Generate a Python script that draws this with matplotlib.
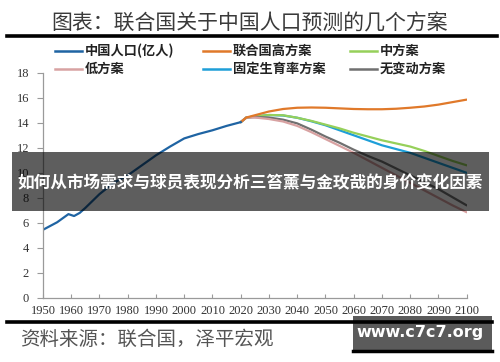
import matplotlib
matplotlib.use('Agg')
import matplotlib.pyplot as plt
import matplotlib.patches as patches
from matplotlib.lines import Line2D

plt.rcParams['font.family'] = ['Noto Sans CJK SC', 'DejaVu Sans']

# historical population (100 million)
hist_years = [1950, 1955, 1959, 1961, 1963, 1965, 1970, 1975, 1980, 1985,
              1990, 1995, 2000, 2005, 2010, 2015, 2020]
hist_pop = [5.45, 6.05, 6.7, 6.55, 6.8, 7.2, 8.3, 9.2, 9.8, 10.6,
            11.4, 12.1, 12.75, 13.1, 13.4, 13.75, 14.05]

# UN projection scenarios
proj_years = [2020, 2022, 2025, 2030, 2035, 2040, 2045, 2050, 2055, 2060,
              2065, 2070, 2075, 2080, 2085, 2090, 2095, 2100]
high = [14.05, 14.42, 14.6, 14.9, 15.1, 15.2, 15.22, 15.2, 15.15, 15.1,
        15.08, 15.08, 15.12, 15.2, 15.3, 15.45, 15.65, 15.85]
medium = [14.05, 14.42, 14.5, 14.62, 14.6, 14.4, 14.15, 13.85, 13.55, 13.2,
          12.9, 12.6, 12.35, 12.1, 11.75, 11.35, 10.95, 10.6]
low = [14.05, 14.42, 14.42, 14.3, 14.1, 13.75, 13.25, 12.7, 12.15, 11.6,
       11.0, 10.4, 9.8, 9.2, 8.6, 8.0, 7.4, 6.85]
fixed = [14.05, 14.42, 14.5, 14.62, 14.58, 14.4, 14.12, 13.8, 13.4, 13.0,
         12.6, 12.2, 11.9, 11.6, 11.2, 10.8, 10.4, 10.0]
nochange = [14.05, 14.42, 14.45, 14.42, 14.25, 13.95, 13.45, 12.9, 12.4, 11.85,
            11.35, 10.9, 10.35, 9.8, 9.25, 8.7, 8.05, 7.4]

labels = ['中国人口(亿人)', '联合国高方案', '中方案', '低方案', '固定生育率方案', '无变动方案']
colors = ['#1f64a3', '#e0792a', '#96d05a', '#d8a2a2', '#1e9fd8', '#707070']

fig = plt.figure(figsize=(5.0, 3.62), dpi=100)
ax = fig.add_axes([43 / 500, 64 / 362, 423.7 / 500, 225.3 / 362])

series = [high, medium, low, fixed, nochange]
draw_order = [4, 2, 5, 3, 1]  # back to front, roughly as in the picture
for idx in draw_order:
    ax.plot(proj_years, series[idx - 1], color=colors[idx], linewidth=1.6,
            solid_capstyle='round')
ax.plot(hist_years, hist_pop, color=colors[0], linewidth=1.6)

ax.set_xlim(1950, 2100)
ax.set_ylim(0, 18)
ax.set_xticks(range(1950, 2101, 10))
ax.set_yticks(range(0, 19, 2))
for s in ['top', 'right']:
    ax.spines[s].set_visible(False)
for s in ['left', 'bottom']:
    ax.spines[s].set_color('#9a9a9a')
    ax.spines[s].set_linewidth(0.9)
ax.tick_params(axis='y', direction='out', length=4, color='#9a9a9a',
               labelsize=9, pad=6, labelcolor='#333333')
ax.tick_params(axis='x', direction='in', length=3, color='#9a9a9a',
               labelsize=9, pad=5, labelcolor='#333333')
for lab in ax.get_xticklabels() + ax.get_yticklabels():
    lab.set_family('Liberation Serif')

# title and rules
fig.text(0.5, 1 - 23 / 362, '图表：联合国关于中国人口预测的几个方案', ha='center',
         va='center', fontsize=15, color='#3a3a3a')
fig.add_artist(Line2D([7 / 500, 497 / 500], [1 - 36 / 362] * 2, color='black',
                      linewidth=2.6))
fig.add_artist(Line2D([7 / 500, 492 / 500], [1 - 321.5 / 362] * 2, color='black',
                      linewidth=2.6))

# legend
col_x = [55, 203, 350]
row_y = [51, 69]
legend_pos = [(0, 0), (1, 0), (2, 0), (0, 1), (1, 1), (2, 1)]
for (c, r), lab, col in zip(legend_pos, labels, colors):
    x0 = col_x[c] / 500
    y0 = 1 - row_y[r] / 362
    fig.add_artist(Line2D([x0, x0 + 27 / 500], [y0, y0], color=col, linewidth=1.8))
    fig.text(x0 + 30 / 500, y0, lab, ha='left', va='center', fontsize=9.5,
             fontweight='bold', color='#222222')

# source
fig.text(20 / 500, 1 - 339 / 362, '资料来源：联合国，泽平宏观', ha='left',
         va='center', fontsize=14, color='#555555')

# overlay banner
fig.add_artist(patches.Rectangle((12 / 500, 1 - 211 / 362), 477 / 500, 59 / 362,
                                 transform=fig.transFigure, facecolor='black',
                                 alpha=0.63, edgecolor='none'))
fig.text(250 / 500, 1 - 183 / 362,
         '如何从市场需求与球员表现分析三笞薰与金玫哉的身价变化因素',
         ha='center', va='center', fontsize=12, fontweight='bold',
         color='white')

# watermark box
fig.add_artist(patches.Rectangle((353 / 500, 1 - 351 / 362), 139 / 500, 35 / 362,
                                 transform=fig.transFigure, facecolor='#5b5b5b',
                                 edgecolor='none'))
fig.add_artist(Line2D([353 / 500, 492 / 500], [1 - 351 / 362] * 2, color='black',
                      linewidth=2.5))
fig.text(420 / 500, 1 - 333 / 362, 'www.c7c7.org', ha='center', va='center',
         fontsize=11.5, fontweight='bold', color='white', family='DejaVu Sans')

fig.savefig('out.png', dpi=100)
